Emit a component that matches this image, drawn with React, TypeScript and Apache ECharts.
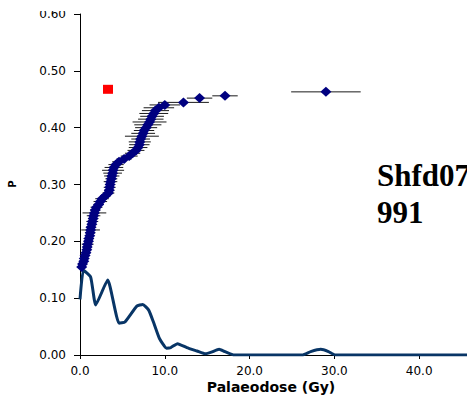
import React, { useEffect, useRef } from "react";
import * as echarts from "echarts";

// Palaeodose (Gy) of each aliquot, its error, and cumulative P
const doseValues = [
  0.2, 0.3, 0.45, 0.5, 0.6, 0.7, 0.8, 0.85, 0.9, 1.0,
  1.05, 1.15, 1.2, 1.25, 1.3, 1.4, 1.45, 1.55, 1.6, 1.7,
  1.8, 1.95, 2.2, 2.4, 2.6, 3.0, 3.35, 3.45, 3.5, 3.55,
  3.6, 3.7, 3.75, 3.85, 3.9, 4.0, 4.25, 4.6, 5.2, 5.8,
  6.2, 6.6, 6.85, 7.0, 7.05, 7.15, 7.3, 7.45, 7.55, 7.8,
  8.0, 8.2, 8.35, 8.5, 8.7, 8.9, 9.3, 10.0, 12.2, 14.1,
  17.1, 29.0,
];
const doseErrors = [
  0.3, 0.4, 0.3, 0.5, 0.4, 0.5, 0.4, 0.5, 0.7, 0.5,
  0.6, 0.5, 0.6, 1.1, 0.6, 0.5, 0.7, 0.6, 0.8, 1.4,
  0.6, 0.7, 0.6, 0.8, 0.8, 0.6, 0.7, 0.6, 0.7, 0.6,
  0.8, 0.7, 0.9, 1.1, 1.3, 1.1, 0.9, 0.8, 0.9, 1.0,
  0.9, 1.0, 1.1, 1.2, 1.3, 1.1, 2.0, 1.4, 1.2, 1.3,
  1.6, 2.0, 1.5, 1.4, 1.7, 1.6, 1.8, 1.8, 3.0, 1.5,
  1.5, 4.1,
];
const pValues = [
  0.155, 0.16, 0.165, 0.17, 0.175, 0.18, 0.185, 0.19, 0.195, 0.2,
  0.205, 0.21, 0.215, 0.22, 0.225, 0.23, 0.235, 0.24, 0.245, 0.25,
  0.255, 0.26, 0.265, 0.27, 0.275, 0.28, 0.285, 0.29, 0.295, 0.3,
  0.305, 0.31, 0.315, 0.32, 0.325, 0.33, 0.335, 0.34, 0.345, 0.35,
  0.355, 0.36, 0.365, 0.37, 0.375, 0.38, 0.385, 0.39, 0.395, 0.4,
  0.405, 0.41, 0.415, 0.42, 0.425, 0.43, 0.435, 0.44, 0.4445, 0.452,
  0.456, 0.463,
];

// Red marker
const redPoint = [3.3, 0.4675];

// Probability density curve
const kdeX = [
  0, 0.4, 1.26, 1.85, 3.27, 4.6, 5.3, 6.7, 7.4, 8.1, 8.66, 9.37, 10.2, 10.7,
  11.5, 12.6, 13.8, 14.8, 15.5, 16.4, 17.1, 18.2, 26.2, 27.2, 28.4, 29.3,
  30.1, 50,
];
const kdeY = [
  0.098, 0.149, 0.137, 0.088, 0.132, 0.056, 0.058, 0.086, 0.089, 0.079, 0.058,
  0.029, 0.012, 0.013, 0.02, 0.013, 0.007, 0.002, 0.005, 0.01, 0.006, 0, 0,
  0.006, 0.01, 0.006, 0, 0,
];

const xTicks = { min: 0, max: 50, interval: 10 };
const yTicks = { min: 0, max: 0.6, interval: 0.1 };

const axisFont = "'DejaVu Sans', sans-serif";

export default function App() {
  const ref = useRef<HTMLDivElement>(null);
  useEffect(() => {
    if (!ref.current) return;
    const chart = echarts.init(ref.current, null, { renderer: "svg" });
    const errData = doseValues.map((d, i) => [d - doseErrors[i], d + doseErrors[i], pValues[i]]);
    const ptData = doseValues.map((d, i) => [d, pValues[i]]);
    const kdeData = kdeX.map((x, i) => [x, kdeY[i]]);
    chart.setOption({
      animation: false,
      backgroundColor: "#ffffff",
      grid: {
        left: 80,
        top: 14,
        width: 424,
        height: 341,
        containLabel: false,
        outerBoundsMode: "none",
      },
      xAxis: {
        type: "value",
        min: xTicks.min,
        max: xTicks.max,
        interval: xTicks.interval,
        axisLine: { show: true, onZero: false, lineStyle: { color: "#000", width: 1 } },
        axisTick: { show: true, inside: false, length: 4, lineStyle: { color: "#000" } },
        splitLine: { show: false },
        axisLabel: {
          color: "#000",
          fontFamily: axisFont,
          fontSize: 12,
          margin: 10,
          showMaxLabel: false,
          formatter: (v: number) => v.toFixed(1),
        },
      },
      yAxis: {
        type: "value",
        min: yTicks.min,
        max: yTicks.max,
        interval: yTicks.interval,
        axisLine: { show: true, lineStyle: { color: "#000", width: 1 } },
        axisTick: { show: true, inside: false, length: 6, lineStyle: { color: "#000" } },
        splitLine: { show: false },
        axisLabel: {
          color: "#000",
          fontFamily: axisFont,
          fontSize: 12,
          margin: 14,
          formatter: (v: number) => v.toFixed(2),
        },
      },
      series: [
        {
          type: "line",
          data: kdeData,
          smooth: 0.15,
          showSymbol: false,
          symbol: "none",
          lineStyle: { color: "#083566", width: 3 },
          z: 2,
        },
        {
          type: "custom",
          data: errData,
          encode: { x: [0, 1], y: 2 },
          renderItem: (params: any, api: any) => {
            const lo = api.coord([api.value(0), api.value(2)]);
            const hi = api.coord([api.value(1), api.value(2)]);
            return {
              type: "line",
              shape: { x1: lo[0], y1: lo[1], x2: hi[0], y2: hi[1] },
              style: { stroke: "#1a1a1a", lineWidth: 1 },
            };
          },
          z: 3,
        },
        {
          type: "scatter",
          data: ptData,
          symbol: "diamond",
          symbolSize: [11, 10],
          itemStyle: { color: "#000080", opacity: 1 },
          z: 4,
        },
        {
          type: "scatter",
          data: [redPoint],
          symbol: "rect",
          symbolSize: [10, 9],
          itemStyle: { color: "#ff0000", opacity: 1 },
          z: 4,
        },
      ],
      graphic: [
        {
          type: "rect",
          shape: { x: 0, y: 0, width: 76, height: 11 },
          style: { fill: "#ffffff" },
          z: 100,
        },
        {
          type: "text",
          x: 12,
          y: 184,
          rotation: Math.PI / 2,
          style: {
            text: "P",
            font: "bold 10px 'DejaVu Sans', sans-serif",
            fill: "#000",
            textAlign: "center",
            textVerticalAlign: "middle",
          },
        },
        {
          type: "text",
          x: 271,
          y: 387,
          style: {
            text: "Palaeodose (Gy)",
            font: "bold 14px 'DejaVu Sans', sans-serif",
            fill: "#000",
            textAlign: "center",
            textVerticalAlign: "middle",
          },
        },
        {
          type: "text",
          x: 377,
          y: 157,
          style: {
            text: "Shfd07\n991",
            font: "bold 31px 'Liberation Serif', 'Times New Roman', serif",
            lineHeight: 37,
            fill: "#000",
            textAlign: "left",
            textVerticalAlign: "top",
          },
        },
      ],
    });
    return () => chart.dispose();
  }, []);
  return (
    <div
      ref={ref}
      style={{ position: "absolute", left: 0, top: 0, width: 467, height: 408 }}
    />
  );
}
